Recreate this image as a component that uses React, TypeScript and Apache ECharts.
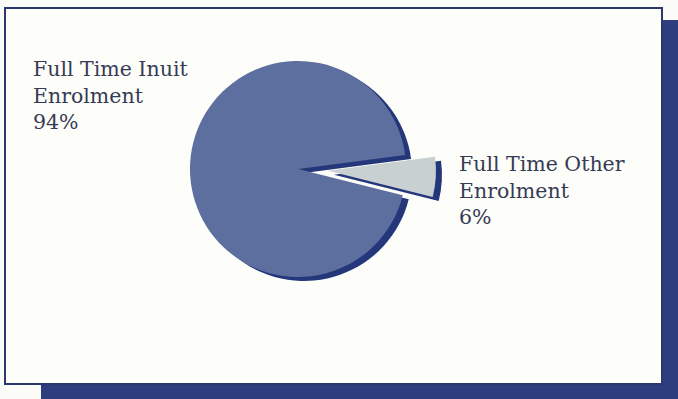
import React, { useEffect, useRef } from "react";
import * as echarts from "echarts";

const categories = ["Full Time Other Enrolment", "Full Time Inuit Enrolment"];
const values = [6, 94];
const sliceColors = ["#c9d0d1", "#5d6f9f"];

export default function App() {
  const ref = useRef<HTMLDivElement>(null);
  useEffect(() => {
    if (!ref.current) return;
    const chart = echarts.init(ref.current, undefined, { renderer: "svg" });
    const total = values.reduce((a, b) => a + b, 0);
    const labelText = (i: number) =>
      categories[i].replace(" Enrolment", "\nEnrolment") +
      "\n" +
      Math.round((values[i] / total) * 100) +
      "%";
    const data = categories.map((name, i) => ({
      name,
      value: values[i],
      selected: i === 0,
      itemStyle: { color: sliceColors[i] },
    }));
    const shadowData = categories.map((name, i) => ({
      name,
      value: values[i],
      selected: i === 0,
    }));
    const fontFamily = "'DejaVu Serif', serif";
    const textStyle = {
      fill: "#363b55",
      fontFamily,
      fontSize: 20.5,
      lineHeight: 26.5,
      align: "left",
      verticalAlign: "top",
    };
    chart.setOption({
      animation: false,
      backgroundColor: "#fbfbf7",
      graphic: [
        {
          type: "rect",
          z: -10,
          shape: { x: 41, y: 20, width: 637, height: 379 },
          style: { fill: "#2d3d7e" },
          silent: true,
        },
        {
          type: "rect",
          z: -9,
          shape: { x: 5, y: 8, width: 657, height: 376 },
          style: { fill: "#fdfdf9", stroke: "#2b376f", lineWidth: 2 },
          silent: true,
        },
        {
          type: "text",
          z: 10,
          x: 33,
          y: 56,
          style: { ...textStyle, text: labelText(1) },
          silent: true,
        },
        {
          type: "text",
          z: 10,
          x: 459,
          y: 151,
          style: { ...textStyle, text: labelText(0) },
          silent: true,
        },
      ],
      series: [
        {
          type: "pie",
          z: 1,
          center: [304, 173],
          radius: 108,
          startAngle: 7.5,
          selectedMode: "single",
          selectedOffset: 30,
          silent: true,
          label: { show: false },
          labelLine: { show: false },
          itemStyle: { color: "#24377a", borderWidth: 0 },
          data: shadowData,
        },
        {
          type: "pie",
          z: 2,
          center: [298, 169],
          radius: 108,
          startAngle: 7.5,
          selectedMode: "single",
          selectedOffset: 30,
          silent: true,
          itemStyle: { borderWidth: 0 },
          label: { show: false },
          labelLine: { show: false },
          data,
        },
      ],
    });
    return () => chart.dispose();
  }, []);
  return (
    <div
      ref={ref}
      style={{ position: "fixed", left: 0, top: 0, width: 678, height: 399 }}
    />
  );
}
